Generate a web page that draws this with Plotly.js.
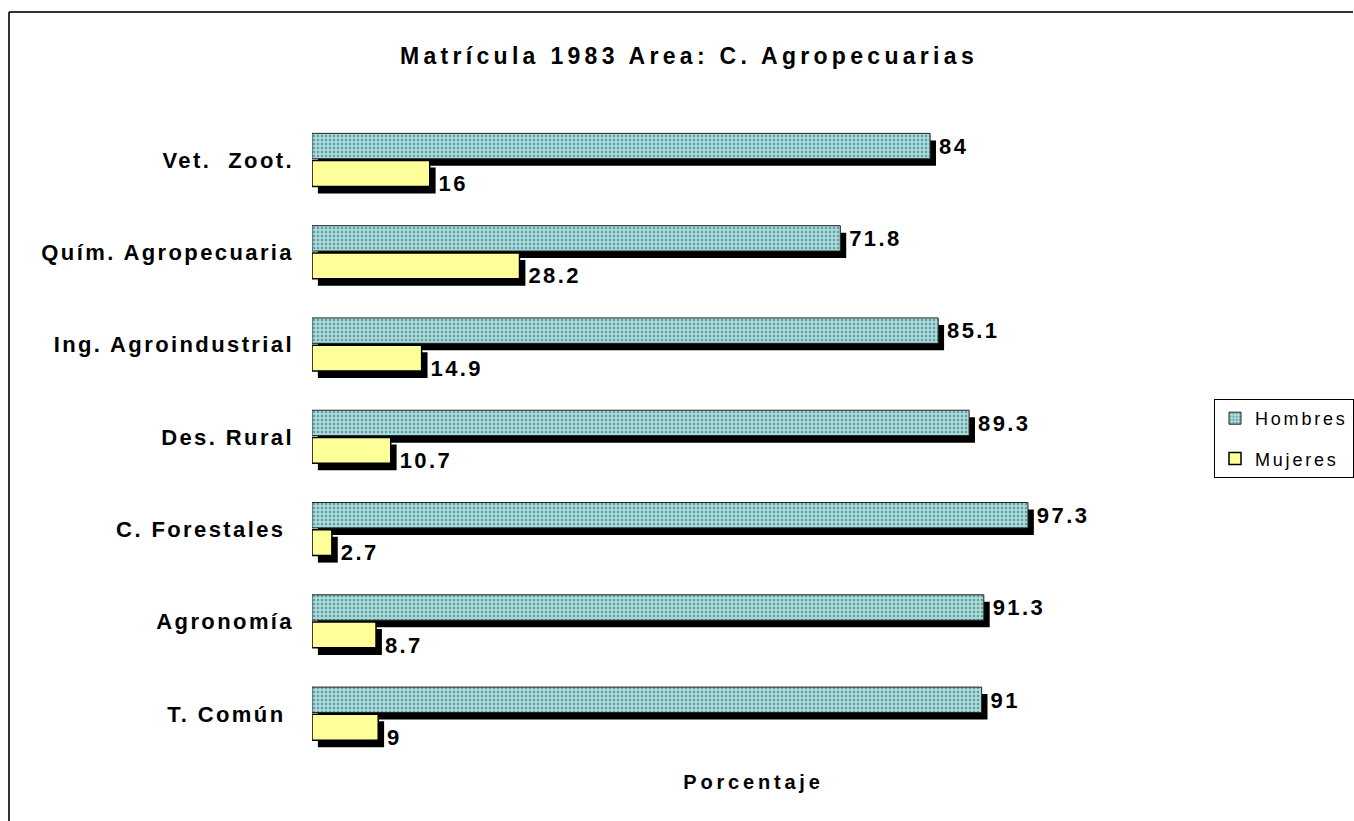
<!DOCTYPE html>
<html>
<head>
<meta charset="utf-8">
<script src="https://cdn.plot.ly/plotly-3.0.1.min.js"></script>
<style>
  html, body { margin: 0; padding: 0; background: #fff; overflow: hidden; }
  #chart { position: absolute; left: 0; top: 0; width: 1354px; height: 821px; }
  .ytick text { letter-spacing: 2.4px; }
  .bartext { letter-spacing: 2.4px; }
  .gtitle { letter-spacing: 4.3px; }
  .xtitle { letter-spacing: 3.8px; }
  .legendtext { letter-spacing: 2.8px; }
</style>
</head>
<body>
<div id="chart"></div>
<script>
// ---- data ----
var categories = ['Vet.\u00a0 Zoot.', 'Quím. Agropecuaria', 'Ing. Agroindustrial', 'Des. Rural',
                  'C. Forestales\u00a0', 'Agronomía', 'T. Común\u00a0'];
var hombres = [84, 71.8, 85.1, 89.3, 97.3, 91.3, 91];
var mujeres = [16, 28.2, 14.9, 10.7, 2.7, 8.7, 9];
var seriesNames = ['Hombres', 'Mujeres'];
var chartTitle = 'Matrícula 1983 Area: C. Agropecuarias';
var xTitle = 'Porcentaje';

// ---- styling ----
var FONT = 'Liberation Sans, Arial, Helvetica, sans-serif';
var SHIFT_X = 0.8;     // shadow shift along value axis (data units)
var SHIFT_Y = 0.076;   // shadow shift along category axis
var H_OFF = -0.29, H_W = 0.275;
var M_OFF = 0.005, M_W = 0.28;
var labelFont = {family: FONT, size: 22, color: '#000', weight: 'bold'};

function shadow(vals, off, w) {
  return {type: 'bar', orientation: 'h', y: categories, x: vals,
    base: SHIFT_X, offset: off + SHIFT_Y, width: w,
    marker: {color: '#000', line: {width: 0}},
    showlegend: false, hoverinfo: 'skip'};
}
function labels(vals, off, w) {
  return {type: 'bar', orientation: 'h', y: categories, x: vals,
    base: SHIFT_X, offset: off, width: w,
    marker: {color: 'rgba(0,0,0,0)', line: {width: 0}},
    text: vals.map(String), textposition: 'outside', cliponaxis: false,
    constraintext: 'none', textfont: labelFont, outsidetextfont: labelFont,
    showlegend: false, hoverinfo: 'skip'};
}

var traces = [
  shadow(hombres, H_OFF, H_W),
  shadow(mujeres, M_OFF, M_W),
  {type: 'bar', orientation: 'h', name: seriesNames[0], legendgroup: 'h',
   y: categories, x: hombres, offset: H_OFF, width: H_W,
   marker: {color: '#a6d8d8',
            pattern: {shape: '.', bgcolor: '#a8dcdc', fgcolor: '#6a9a9a', size: 4, solidity: 0.3},
            line: {color: '#222', width: 1}}},
  {type: 'bar', orientation: 'h', name: seriesNames[1], legendgroup: 'm',
   y: categories, x: mujeres, offset: M_OFF, width: M_W,
   marker: {color: '#ffff99', line: {color: '#000', width: 1.5}}},
  labels(hombres, -0.285, 0.27),
  labels(mujeres, 0.12, 0.27)
];

// frame lines (left and top edge of the chart area), in paper units
var PW = 883, PH = 646, ML = 312, MT = 114;
var fx = (9 - ML) / PW, fy = 1 + (MT - 12) / PH, fxr = (1353 - ML) / PW;

var layout = {
  width: 1354, height: 821,
  margin: {l: ML, r: 159, t: MT, b: 61, pad: 0, autoexpand: false},
  paper_bgcolor: '#fff', plot_bgcolor: '#fff',
  barmode: 'overlay',
  showlegend: true,
  font: {family: FONT, color: '#000'},
  title: {text: chartTitle, x: 689 / 1354, xref: 'container', xanchor: 'center',
          y: 1 - 56 / 821, yref: 'container', yanchor: 'middle',
          font: {family: FONT, size: 23, color: '#000', weight: 'bold'}},
  xaxis: {range: [0, 120], showticklabels: false, showgrid: false, zeroline: false,
          showline: false, ticks: '', fixedrange: true,
          title: {text: xTitle, standoff: 14,
                  font: {family: FONT, size: 20, color: '#000', weight: 'bold'}}},
  yaxis: {type: 'category', categoryorder: 'array', categoryarray: categories,
          range: [6.5, -0.5], showgrid: false, zeroline: false, showline: false,
          ticks: '', ticklabelstandoff: 17, fixedrange: true,
          tickfont: {family: FONT, size: 22, color: '#000', weight: 'bold'}},
  legend: {x: (1214 - ML) / PW, xanchor: 'left', y: 1 - (399 - MT) / PH, yanchor: 'top',
           bordercolor: '#000', borderwidth: 1, bgcolor: '#fff',
           traceorder: 'grouped', tracegroupgap: 14,
           font: {family: FONT, size: 18, color: '#000'}},
  shapes: [
    {type: 'line', xref: 'paper', yref: 'paper', x0: fx, x1: fx, y0: fy, y1: -1,
     line: {color: '#333', width: 2}},
    {type: 'line', xref: 'paper', yref: 'paper', x0: fx, x1: fxr, y0: fy, y1: fy,
     line: {color: '#333', width: 2}}
  ]
};

Plotly.newPlot('chart', traces, layout, {staticPlot: true, displayModeBar: false});
</script>
</body>
</html>
